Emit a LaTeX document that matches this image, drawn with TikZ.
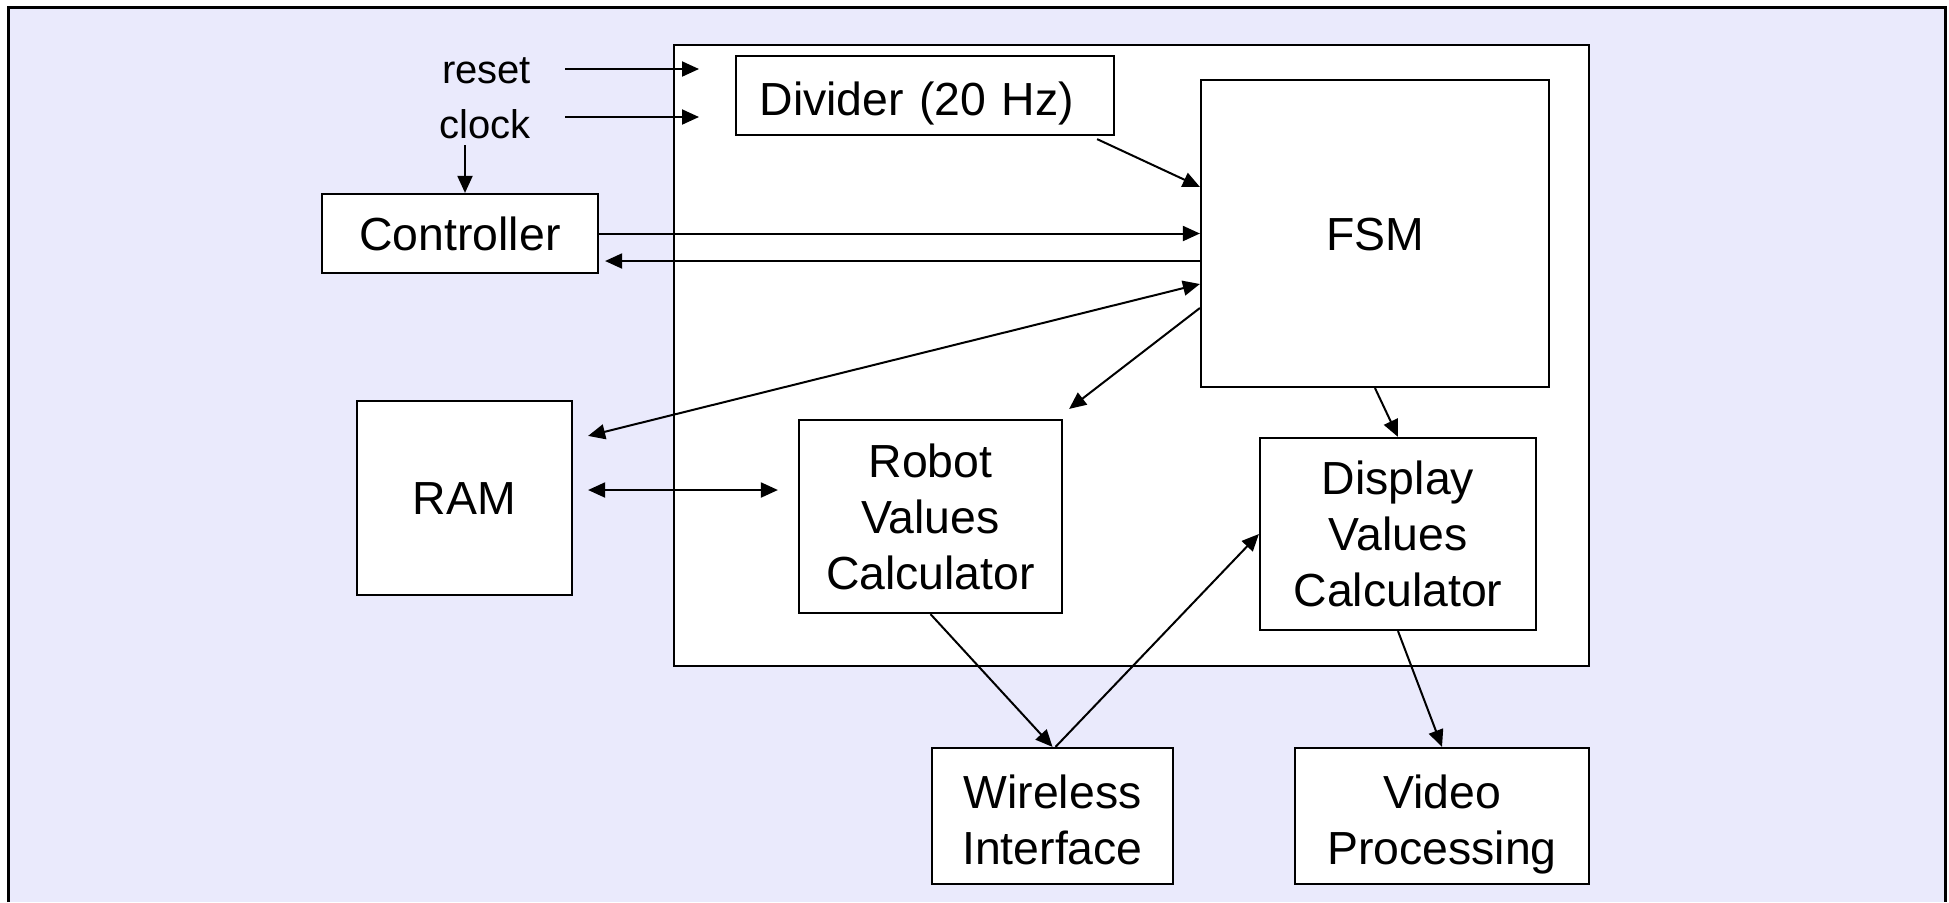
\documentclass[tikz,border=0pt]{standalone}
\usepackage{fontspec}
\setmainfont{Liberation Sans}
\usetikzlibrary{arrows.meta,calc}
\definecolor{panel}{RGB}{234,234,252}
\tikzset{
  blk/.style={draw, fill=white, line width=1.1pt, inner sep=0pt, align=center,
              text height=16.6pt, text depth=0pt,
              font=\fontsize{23.2}{28}\selectfont},
  two/.style={text height=48.3pt},
  three/.style={text height=72.6pt},
  sig/.style={font=\fontsize{20}{24}\selectfont, inner sep=0pt, anchor=base},
  tip/.tip={Triangle[length=8.5pt,width=7.5pt]},
  arr/.style={line width=1pt, -tip},
  darr/.style={line width=1pt, tip-tip},
}
\begin{document}
\begin{tikzpicture}[x=0.5pt,y=-0.5pt]
\useasboundingbox (0,0) rectangle (1949,902);
% lavender panel with its frame
\fill[panel] (8,7) rectangle (1945,902);
\draw[line width=1.5pt] (8,902) -- (8,7) -- (1945,7) -- (1945,902);

% system block and its parts
\node[blk, minimum width=457.5pt, minimum height=310.5pt] (sys) at (1131.5,355.5) {};
\node[blk, text height=19.6pt, text width=165.4pt, inner xsep=11.8pt, align=left, minimum height=39.5pt] (div) at (925,95.5) {Divider (20 Hz)};
\node[blk, minimum width=174pt, minimum height=153.5pt] (fsm) at (1375,233.5) {FSM};
\node[blk, three, minimum width=131.5pt, minimum height=96.5pt] (rvc) at (930.5,516.5) {Robot\\Values\\Calculator};
\node[blk, three, minimum width=138pt, minimum height=96pt] (dvc) at (1398,534) {Display\\Values\\Calculator};

% external blocks
\node[blk, minimum width=138pt, minimum height=39.5pt] (ctrl) at (460,233.5) {Controller};
\node[blk, minimum width=107.5pt, minimum height=97pt] (ram) at (464.5,498) {RAM};
\node[blk, two, minimum width=120.5pt, minimum height=68pt] (wi) at (1052.5,816) {Wireless\\Interface};
\node[blk, two, minimum width=147pt, minimum height=68pt] (vp) at (1442,816) {Video\\Processing};

% input signals
\node[sig] (reset) at (486.5,83) {reset};
\node[sig] (clock) at (485,138) {clock};
\coordinate (rst-a) at (565,69);
\coordinate (rst-b) at (699,69);
\coordinate (clk-a) at (565,117);
\coordinate (clk-b) at (699,117);
\coordinate (clk-c) at (465,145);

% connections
\draw[arr] (rst-a) -- (rst-b);
\draw[arr] (clk-a) -- (clk-b);
\draw[arr] (clk-c) -- (clk-c |- ctrl.north);
\draw[arr] ($(div.south east)+(-9pt,-1.5pt)$) -- ([yshift=-54pt]fsm.north west);
\draw[arr] (ctrl.east) -- (ctrl.east -| fsm.west);
\draw[arr] ([yshift=-13.75pt]fsm.west) -- ([shift={(3pt,-13.75pt)}]ctrl.east);
\draw[darr] ([yshift=-25.25pt]fsm.west) -- ([shift={(7.5pt,-18pt)}]ram.north east);
\draw[arr] ([yshift=-37.25pt]fsm.west) -- ([shift={(3pt,5pt)}]rvc.north east);
\draw[darr] ([shift={(7.5pt,4pt)}]ram.east) -- ([shift={(-10pt,4pt)}]ram.east -| rvc.west);
\draw[arr] (fsm.south) -- (dvc.north);
\draw[arr] (rvc.south) -- (wi.north);
\draw[arr] ([xshift=1.5pt]wi.north) -- (dvc.west);
\draw[arr] (dvc.south) -- (vp.north);
\end{tikzpicture}
\end{document}
